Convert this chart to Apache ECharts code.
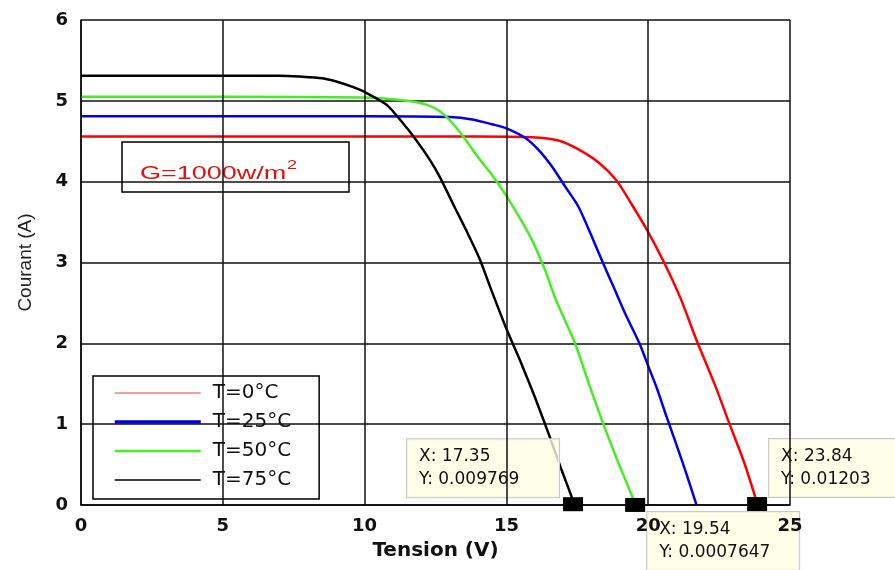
<!DOCTYPE html>
<html>
<head>
<meta charset="utf-8">
<script src="https://cdn.jsdelivr.net/npm/echarts@6/dist/echarts.min.js"></script>
<style>
html,body{margin:0;padding:0;background:#fff;}
#chart{width:895px;height:570px;}
</style>
</head>
<body>
<div id="chart"></div>
<script>
// T = 0 °C
const tension0 = [0, 5, 10, 14, 15.9, 16.84, 17.54, 18.24, 18.87, 19.4, 19.96, 20.56, 21.15, 21.67, 22.36, 22.87, 23.39, 23.73, 23.84];
const courant0 = [4.56, 4.56, 4.56, 4.56, 4.55, 4.51, 4.40, 4.24, 4.02, 3.73, 3.40, 3.00, 2.55, 2.07, 1.48, 1.00, 0.52, 0.15, 0.01203];
// T = 25 °C
const tension25 = [0, 5, 10, 13, 13.8, 14.5, 15, 15.67, 16.14, 16.6, 17.07, 17.54, 18.0, 18.4, 18.8, 19.2, 19.69, 20.0, 20.3, 20.62, 21.2, 21.7];
const courant25 = [4.81, 4.81, 4.81, 4.80, 4.77, 4.71, 4.66, 4.54, 4.39, 4.19, 3.94, 3.69, 3.33, 3.00, 2.68, 2.36, 2.00, 1.72, 1.45, 1.12, 0.54, 0.005];
// T = 50 °C
const tension50 = [0, 5, 10, 11.48, 12.2, 12.65, 13.11, 13.58, 14.05, 14.5, 14.97, 15.44, 15.9, 16.37, 16.72, 17.42, 17.89, 18.42, 18.95, 19.42, 19.54];
const courant50 = [5.05, 5.05, 5.04, 5.00, 4.95, 4.87, 4.72, 4.51, 4.28, 4.08, 3.84, 3.57, 3.28, 2.90, 2.56, 2.00, 1.52, 1.00, 0.52, 0.12, 0.0007647];
// T = 75 °C
const tension75 = [0, 5, 7, 7.7, 8.5, 9.0, 9.6, 10, 10.78, 11.36, 11.83, 12.3, 12.65, 13.11, 13.58, 14.05, 14.5, 15.0, 15.55, 16.02, 16.5, 16.96, 17.3, 17.35];
const courant75 = [5.31, 5.31, 5.31, 5.30, 5.28, 5.24, 5.17, 5.11, 4.95, 4.72, 4.51, 4.27, 4.06, 3.73, 3.40, 3.05, 2.63, 2.18, 1.73, 1.32, 0.87, 0.42, 0.10, 0.009769];

const seriesNames = ['T=0°C', 'T=25°C', 'T=50°C', 'T=75°C'];
// data tips
const tipX = [17.35, 19.54, 23.84];
const tipY = [0.009769, 0.0007647, 0.01203];

const pairs = (v, c) => v.map((x, k) => [x, c[k]]);
const colors = ['#ff0000', '#0000ee', '#44ee22', '#000000'];
const widths = [2.5, 2.5, 2.5, 2.5];
const legendWidths = [1.5, 3.5, 2.5, 1.5];
const legendColors = ['#f08080', '#0000dd', '#44ee22', '#000000'];
const curves = [pairs(tension0, courant0), pairs(tension25, courant25), pairs(tension50, courant50), pairs(tension75, courant75)];

const tipPlacement = [[-156, -58], [22, 14], [22, -58]];

const chart = echarts.init(document.getElementById('chart'));
const lineSeries = curves.map((d, k) => ({
  name: seriesNames[k],
  type: 'line',
  data: d,
  showSymbol: false,
  symbol: 'none',
  smooth: 0.25,
  lineStyle: { color: colors[k], width: widths[k] },
  itemStyle: { color: colors[k] },
  z: 3,
  animation: false
}));

const tipSeries = {
  name: 'tips',
  type: 'scatter',
  symbol: 'rect',
  symbolSize: [20, 14],
  itemStyle: { color: '#000', opacity: 1 },
  z: 10,
  silent: true,
  animation: false,
  data: tipX.map((x, k) => ({
    value: [x, tipY[k]],
    label: { position: tipPlacement[k] }
  })),
  label: {
    show: true,
    formatter: p => 'X: ' + p.value[0] + '\nY: ' + p.value[1],
    fontFamily: 'DejaVu Sans',
    fontSize: 17,
    lineHeight: 23,
    width: 128,
    color: '#111',
    backgroundColor: 'rgba(255,255,228,0.8)',
    borderColor: '#c8c8c8',
    borderWidth: 1,
    padding: [6, 12, 6, 12]
  }
};

const option = {
  backgroundColor: '#fff',
  animation: false,
  grid: { left: 81, right: 105, top: 20, bottom: 65, show: false },
  xAxis: {
    type: 'value', min: 0, max: 25, interval: 5, z: 12,
    name: 'Tension (V)', nameLocation: 'middle', nameGap: 36,
    nameTextStyle: { fontFamily: 'DejaVu Sans', fontWeight: 'bold', fontSize: 20, color: '#111' },
    axisLine: { lineStyle: { color: '#000', width: 1.5 } },
    axisTick: { show: false },
    axisLabel: { margin: 12, fontFamily: 'DejaVu Sans', fontWeight: 'bold', fontSize: 18, color: '#111' },
    splitLine: { show: true, lineStyle: { color: '#111', width: 1.5 } }
  },
  yAxis: {
    type: 'value', min: 0, max: 6, interval: 1,
    name: 'Courant (A)', nameLocation: 'middle', nameGap: 46, nameRotate: 90,
    nameTextStyle: { fontFamily: 'Liberation Sans', fontSize: 19, color: '#222' },
    axisLine: { show: true, lineStyle: { color: '#000', width: 1.5 } },
    axisTick: { show: false },
    axisLabel: { margin: 13, fontFamily: 'DejaVu Sans', fontWeight: 'bold', fontSize: 18, color: '#111' },
    splitLine: { show: true, lineStyle: { color: '#111', width: 1.5 } }
  },
  legend: {
    orient: 'vertical',
    left: 93, top: 376,
    data: seriesNames.map((n, k) => ({ name: n, lineStyle: { color: legendColors[k], width: legendWidths[k] }, itemStyle: { color: legendColors[k], opacity: 0 } })),
    itemWidth: 86, itemHeight: 14, itemGap: 9,
    padding: [7, 28, 9, 20],
    borderColor: '#000', borderWidth: 1.5,
    backgroundColor: 'transparent',
    textStyle: { fontFamily: 'DejaVu Sans', fontSize: 20, lineHeight: 20, color: '#111', padding: [0, 0, 0, 7] },
    selectedMode: false
  },
  graphic: [
    { type: 'rect', shape: { x: 122, y: 142, width: 227, height: 50 }, style: { fill: 'none', stroke: '#000', lineWidth: 1.5 }, z: 5 },
    { type: 'group', x: 140, y: 0, scaleX: 1.5, z: 5, children: [
      { type: 'text', x: 0, y: 174, style: { text: 'G=1000w/m', fontFamily: 'Liberation Sans', fontSize: 18, fill: '#e01010', verticalAlign: 'middle', align: 'left' } },
      { type: 'text', x: 98, y: 166, style: { text: '2', fontFamily: 'Liberation Sans', fontSize: 12, fill: '#e01010', verticalAlign: 'middle', align: 'left' } }
    ]}
  ],
  series: lineSeries.concat([tipSeries])
};
chart.setOption(option);
</script>
</body>
</html>
